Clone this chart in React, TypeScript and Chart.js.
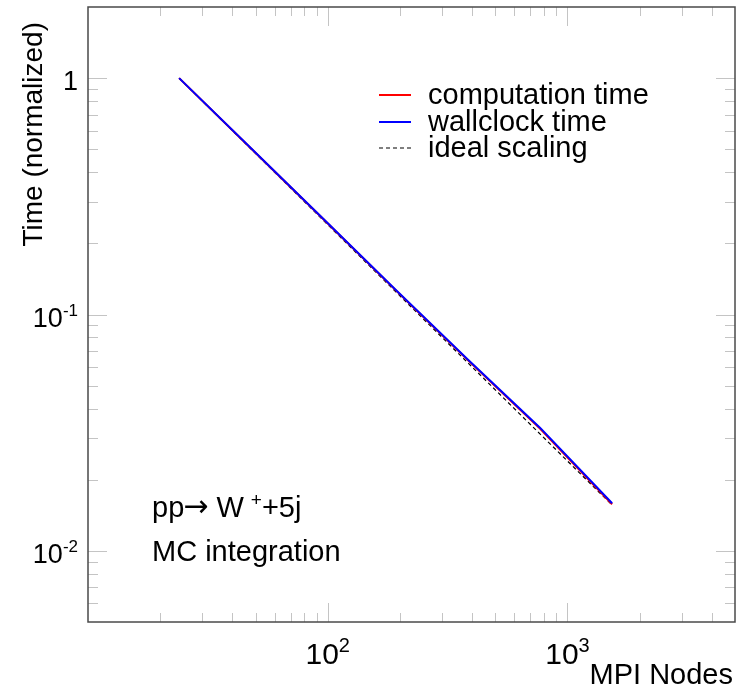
import React, { useEffect, useRef } from 'react';
import { Chart, registerables } from 'chart.js';

Chart.register(...registerables);

// ---- data ----
const nodes = [24, 48, 96, 192, 384, 768, 1536];
const computationTime = [1, 0.503, 0.253, 0.1268, 0.0641, 0.0329, 0.01575];
const wallclockTime = [1, 0.504, 0.2535, 0.1272, 0.0645, 0.0332, 0.0159];
const idealScaling = [1, 0.5, 0.25, 0.125, 0.0625, 0.03125, 0.015625];

const seriesLabels = ['computation time', 'wallclock time', 'ideal scaling'];
const seriesColors = ['#ff0000', '#0000ff', '#000000'];

const xMajorTicks = [100, 1000];
const xTickBase = ['10', '10'];
const xTickExp = ['2', '3'];
const xMinorTicks = [20, 30, 40, 50, 60, 70, 80, 90, 200, 300, 400, 500, 600, 700, 800, 900, 2000, 3000, 4000];

const yMajorTicks = [0.01, 0.1, 1];
const yTickBase = ['10', '10', '1'];
const yTickExp = ['-2', '-1', ''];
const yMinorTicks = [0.006, 0.007, 0.008, 0.009, 0.02, 0.03, 0.04, 0.05, 0.06, 0.07, 0.08, 0.09, 0.2, 0.3, 0.4, 0.5, 0.6, 0.7, 0.8, 0.9];

const xTitle = 'MPI Nodes';
const yTitle = 'Time (normalized)';

const FONT = '"Liberation Sans", Arial, Helvetica, sans-serif';

function font(size: number) {
  return `${size}px ${FONT}`;
}

const rootPlugin = {
  id: 'rootStyle',
  beforeDatasetsDraw(chart: any) {
    const { ctx, chartArea: a, scales } = chart;
    const x = scales.x;
    const y = scales.y;
    ctx.save();
    ctx.strokeStyle = '#c4c4c4';
    ctx.lineWidth = 1;
    const majorLen = 19;
    const minorLen = 9;
    const vline = (px: number, len: number) => {
      const p = Math.round(px) + 0.5;
      ctx.beginPath();
      ctx.moveTo(p, a.bottom);
      ctx.lineTo(p, a.bottom - len);
      ctx.moveTo(p, a.top);
      ctx.lineTo(p, a.top + len);
      ctx.stroke();
    };
    const hline = (py: number, len: number) => {
      const p = Math.round(py) + 0.5;
      ctx.beginPath();
      ctx.moveTo(a.left, p);
      ctx.lineTo(a.left + len, p);
      ctx.moveTo(a.right, p);
      ctx.lineTo(a.right - len, p);
      ctx.stroke();
    };
    xMinorTicks.forEach((v) => vline(x.getPixelForValue(v), minorLen));
    xMajorTicks.forEach((v) => vline(x.getPixelForValue(v), majorLen));
    yMinorTicks.forEach((v) => hline(y.getPixelForValue(v), minorLen + 1));
    yMajorTicks.forEach((v) => hline(y.getPixelForValue(v), majorLen));

    ctx.strokeStyle = '#4a4a4a';
    ctx.lineWidth = 1.5;
    ctx.strokeRect(a.left, a.top, a.right - a.left, a.bottom - a.top);
    ctx.restore();
  },
  afterDraw(chart: any) {
    const { ctx, chartArea: a, scales } = chart;
    const x = scales.x;
    const y = scales.y;
    ctx.save();
    ctx.fillStyle = '#000';
    ctx.textBaseline = 'alphabetic';

    // x tick labels
    xMajorTicks.forEach((v, i) => {
      const px = x.getPixelForValue(v);
      ctx.font = font(30);
      const wb = ctx.measureText(xTickBase[i]).width;
      ctx.font = font(20);
      const we = ctx.measureText(xTickExp[i]).width;
      const start = px - (wb + we) / 2;
      ctx.textAlign = 'left';
      ctx.font = font(30);
      ctx.fillText(xTickBase[i], start, a.bottom + 42);
      ctx.font = font(20);
      ctx.fillText(xTickExp[i], start + wb, a.bottom + 30);
    });

    // y tick labels
    yMajorTicks.forEach((v, i) => {
      const py = y.getPixelForValue(v);
      const right = a.left - 10;
      ctx.textAlign = 'left';
      ctx.font = font(17);
      const we = yTickExp[i] ? ctx.measureText(yTickExp[i]).width : 0;
      ctx.font = font(27);
      const wb = ctx.measureText(yTickBase[i]).width;
      ctx.fillText(yTickBase[i], right - we - wb, py + 12);
      if (yTickExp[i]) {
        ctx.font = font(17);
        ctx.fillText(yTickExp[i], right - we, py + 1);
      }
    });

    // axis titles
    ctx.font = font(29);
    ctx.textAlign = 'right';
    ctx.fillText(xTitle, a.right - 2, a.bottom + 62);

    ctx.save();
    ctx.font = font(28);
    ctx.translate(42, a.top + 15);
    ctx.rotate(-Math.PI / 2);
    ctx.textAlign = 'right';
    ctx.fillText(yTitle, 0, 0);
    ctx.restore();

    // legend
    const legendX = 379;
    const legendText = 428;
    const baselines = [104, 131, 157];
    const dsOrder = [0, 1, 2];
    dsOrder.forEach((di, r) => {
      const ds = chart.data.datasets[di];
      const ly = baselines[r] - 9;
      ctx.save();
      ctx.strokeStyle = ds.borderColor;
      ctx.lineWidth = ds.borderWidth;
      ctx.setLineDash(ds.borderDash || []);
      ctx.beginPath();
      ctx.moveTo(legendX, ly);
      ctx.lineTo(legendX + 32, ly);
      ctx.stroke();
      ctx.restore();
      ctx.font = font(29);
      ctx.textAlign = 'left';
      ctx.fillText(ds.label, legendText, baselines[r]);
    });

    // annotation text
    ctx.textAlign = 'left';
    let tx = 152;
    ctx.font = font(29);
    ctx.fillText('pp', tx, 517);
    tx += ctx.measureText('pp').width;
    ctx.font = `30px "DejaVu Sans", sans-serif`;
    ctx.fillText('\u2192', tx - 1, 516);
    tx += ctx.measureText('\u2192').width - 1;
    ctx.font = font(29);
    ctx.fillText(' W', tx, 517);
    tx += ctx.measureText(' W').width + 7;
    ctx.font = font(19);
    ctx.fillText('+', tx, 506);
    tx += ctx.measureText('+').width;
    ctx.font = font(29);
    ctx.fillText('+5j', tx, 517);
    ctx.fillText('MC integration', 152, 561);

    ctx.restore();
  },
};

export default function App() {
  const ref = useRef<HTMLCanvasElement | null>(null);
  useEffect(() => {
    if (!ref.current) return;
    const chart = new Chart(ref.current, {
      type: 'line',
      data: {
        datasets: [
          {
            label: seriesLabels[0],
            data: nodes.map((n, i) => ({ x: n, y: computationTime[i] })),
            borderColor: seriesColors[0],
            borderWidth: 2,
            pointRadius: 0,
            tension: 0,
            order: 1,
          },
          {
            label: seriesLabels[1],
            data: nodes.map((n, i) => ({ x: n, y: wallclockTime[i] })),
            borderColor: seriesColors[1],
            borderWidth: 2,
            pointRadius: 0,
            tension: 0,
            order: 0,
          },
          {
            label: seriesLabels[2],
            data: nodes.map((n, i) => ({ x: n, y: idealScaling[i] })),
            borderColor: seriesColors[2],
            borderWidth: 1.2,
            borderDash: [4, 3],
            pointRadius: 0,
            tension: 0,
            order: 2,
          },
        ],
      },
      options: {
        animation: false,
        responsive: false,
        devicePixelRatio: 1,
        layout: { padding: { left: 88, top: 7, right: 15, bottom: 64 } },
        plugins: { legend: { display: false }, tooltip: { enabled: false } },
        events: [],
        scales: {
          x: { type: 'logarithmic', min: 10, max: 5000, display: false },
          y: { type: 'logarithmic', min: 0.005, max: 2, display: false },
        },
      },
      plugins: [rootPlugin],
    });
    return () => chart.destroy();
  }, []);
  return (
    <div style={{ position: 'absolute', left: 0, top: 0, width: 750, height: 686, background: '#fff' }}>
      <canvas ref={ref} width={750} height={686} />
    </div>
  );
}
